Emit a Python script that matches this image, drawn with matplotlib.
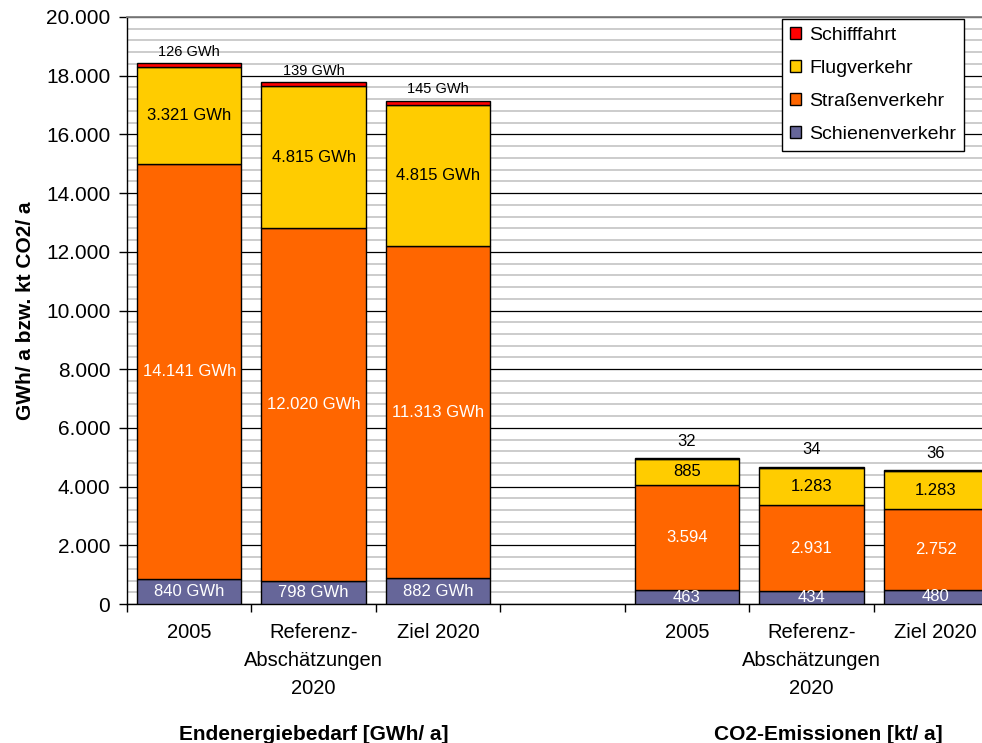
import matplotlib
matplotlib.use("Agg")
import matplotlib.pyplot as plt
from matplotlib.ticker import MultipleLocator, FuncFormatter, FixedLocator
from matplotlib.patches import Patch
from matplotlib.transforms import blended_transform_factory

plt.rcParams['font.family'] = ['Liberation Sans', 'DejaVu Sans']

categories = ["2005", "Referenz-\nAbschätzungen\n2020", "Ziel 2020", "",
              "2005", "Referenz-\nAbschätzungen\n2020", "Ziel 2020"]
series_names = ["Schienenverkehr", "Straßenverkehr", "Flugverkehr", "Schifffahrt"]
schiene = [840, 798, 882, None, 463, 434, 480]
strasse = [14141, 12020, 11313, None, 3594, 2931, 2752]
flug = [3321, 4815, 4815, None, 885, 1283, 1283]
schiff = [126, 139, 145, None, 32, 34, 36]
group_labels = ["Endenergiebedarf [GWh/ a]", "CO2-Emissionen [kt/ a]"]
ylabel = "GWh/ a bzw. kt CO2/ a"
colors = ["#666699", "#FF6600", "#FFCC00", "#FF0000"]

def de(v):
    return f"{v:,.0f}".replace(",", ".")

W, H = 982, 743
fig = plt.figure(figsize=(W / 100, H / 100), dpi=100)
ax = fig.add_axes([127 / W, (H - 604) / H, (998 - 127) / W, (604 - 17) / H])

data = [schiene, strasse, flug, schiff]
xs = [i for i, v in enumerate(schiene) if v is not None]
bottoms = {i: 0 for i in xs}
bw = 0.84
for s, (vals, col) in enumerate(zip(data, colors)):
    for i in xs:
        v = vals[i]
        ax.bar(i, v, bottom=bottoms[i], width=bw, color=col, edgecolor="black",
               linewidth=1.0, zorder=3)
        energy = i < 3
        suffix = " GWh" if energy else ""
        txt = de(v) + suffix
        yc = bottoms[i] + v / 2
        if s in (0, 1):
            ax.text(i, yc, txt, ha="center", va="center", color="white",
                    fontsize=12, zorder=5)
        elif s == 2:
            ax.text(i, yc, txt, ha="center", va="center", color="black",
                    fontsize=12, zorder=5)
        else:
            top = bottoms[i] + v
            off = 8 if energy else 12
            ax.annotate(txt, (i, top), xytext=(0, off), textcoords="offset points",
                        ha="center", va="center", fontsize=10.5 if energy else 12,
                        color="black", zorder=5)
        bottoms[i] += v

ax.set_xlim(-0.5, 6.5)
ax.set_ylim(0, 20000)
ax.yaxis.set_major_locator(MultipleLocator(2000))
ax.yaxis.set_minor_locator(MultipleLocator(400))
ax.yaxis.set_major_formatter(FuncFormatter(lambda v, p: de(v)))
ax.tick_params(axis="y", which="major", direction="out", length=6, width=1,
               labelsize=15, pad=6)
ax.tick_params(axis="y", which="minor", length=0)
ax.grid(axis="y", which="minor", color="#c8c8c8", linewidth=1.3, zorder=0)
ax.grid(axis="y", which="major", color="black", linewidth=0.9, zorder=1)

ax.xaxis.set_major_locator(FixedLocator([k - 0.5 for k in range(8)]))
ax.xaxis.set_major_formatter(FuncFormatter(lambda v, p: ""))
ax.xaxis.set_minor_locator(FixedLocator(list(range(7))))
ax.set_xticklabels(categories, minor=True)
ax.tick_params(axis="x", which="major", direction="out", length=6, width=1)
ax.tick_params(axis="x", which="minor", length=0, labelsize=14.5, pad=14)
for lbl in ax.get_xticklabels(minor=True):
    lbl.set_linespacing(1.6)
    lbl.set_ha("center")

for sp in ["left", "bottom"]:
    ax.spines[sp].set_color("black")
    ax.spines[sp].set_linewidth(1.0)
ax.spines["top"].set_color("#808080")
ax.spines["top"].set_linewidth(1.3)
ax.spines["right"].set_visible(False)

ax.set_ylabel(ylabel, fontsize=15, fontweight="bold", labelpad=8)

tr = blended_transform_factory(ax.transData, ax.transAxes)
ax.text(1.0, -0.222, group_labels[0], transform=tr, ha="center", va="center",
        fontsize=15, fontweight="bold")
ax.text(5.14, -0.222, group_labels[1], transform=tr, ha="center", va="center",
        fontsize=15, fontweight="bold")

handles = [Patch(facecolor=colors[k], edgecolor="black", linewidth=1.0,
                 label=series_names[k]) for k in [3, 2, 1, 0]]
leg = fig.legend(handles=handles, loc="upper left",
                 bbox_to_anchor=(782 / W, 1 - 19 / H), fontsize=14,
                 frameon=True, fancybox=False, shadow=False, borderpad=0.4,
                 labelspacing=0.82, handlelength=0.6, handleheight=0.6,
                 handletextpad=0.4, borderaxespad=0)
leg.get_frame().set_edgecolor("black")
leg.get_frame().set_linewidth(1.0)
leg.get_frame().set_alpha(1)

fig.savefig("out.png", dpi=100)
